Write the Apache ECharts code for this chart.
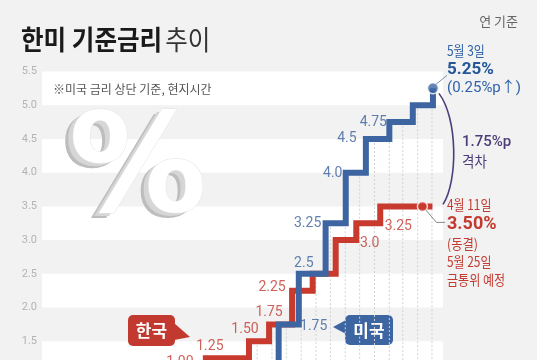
<!DOCTYPE html>
<html><head><meta charset="utf-8">
<script src="https://cdn.jsdelivr.net/npm/echarts@6/dist/echarts.min.js"></script>
<style>html,body{margin:0;padding:0;background:#f2f2f2;}#c{width:537px;height:360px;}</style>
</head><body><div id="c"></div>
<script>
// ---- data ----
const krDates  = ['2021-08-26','2021-11-25','2022-01-14','2022-04-14','2022-05-26','2022-07-13','2022-08-25','2022-10-12','2022-11-24','2023-01-13','2023-05-02'];
const krRates  = [0.75, 1.00, 1.25, 1.50, 1.75, 2.25, 2.50, 3.00, 3.25, 3.50, 3.50];
const krLabels = ['', '1.00', '1.25', '1.50', '1.75', '2.25', '', '3.0', '3.25', '', ''];
const usDates  = ['2020-03-16','2022-03-16','2022-05-04','2022-06-15','2022-07-27','2022-09-21','2022-11-02','2022-12-14','2023-02-01','2023-03-22','2023-05-03'];
const usRates  = [0.25, 0.50, 1.00, 1.75, 2.50, 3.25, 4.00, 4.50, 4.75, 5.00, 5.25];
const usLabels = ['', '', '', '1.75', '2.5', '3.25', '4.0', '4.5', '4.75', '', ''];
const krHoldDate = '2023-04-11';
const krHoldRate = 3.50;
const gridMonths = ['2022-02-01','2022-03-01','2022-04-01','2022-05-01','2022-06-01','2022-07-01','2022-08-01','2022-09-01','2022-10-01','2022-11-01','2022-12-01','2023-01-01','2023-02-01','2023-03-01','2023-04-01','2023-05-01'];
const yMin = 1.0, yMax = 5.5, yStep = 0.5;
const xStart = '2021-02-06', xEnd = '2023-05-24';

// ---- helpers ----
const T = s => (echarts.time && echarts.time.parse ? echarts.time.parse(s) : echarts.number.parseDate(s)).getTime();
function rateAt(dates, rates, d) {
  let r = null; const t = T(d);
  for (let i = 0; i < dates.length; i++) if (T(dates[i]) <= t) r = rates[i];
  return r;
}
const BLUE = '#3d65a2', RED = '#c93a2e', PURPLE = '#4d3d7a';
const BLUE_TXT = '#3a5f9c', RED_TXT = '#c23a30';
const NUMFONT = "Roboto, 'Noto Sans CJK KR', sans-serif";
const KFONT = "'Noto Sans CJK KR', sans-serif";

const krOffsets = {'1.00':[-2,-13],'1.25':[4,-12],'1.50':[-4,-12],'1.75':[0,-12],'2.25':[-20,-3],'3.0':[34,3],'3.25':[42,3]};
const usOffsets = {'1.75':[35,2],'2.5':[5,-10],'3.25':[-18,0],'4.0':[-13,1],'4.5':[-19,0],'4.75':[-16,0]};

function labelData(dates, rates, labels, offsets, color) {
  const out = [];
  dates.forEach((d, i) => {
    if (!labels[i]) return;
    out.push({value: [d, rates[i]], label: {show: true, position: 'inside', formatter: labels[i], offset: offsets[labels[i]] || [0, 0], color: color}});
  });
  return out;
}

const chart = echarts.init(document.getElementById('c'), null, {renderer: 'canvas'});
chart.setOption({
  animation: false,
  backgroundColor: '#f2f2f2',
  grid: {left: 42, width: 401, top: 71.5, height: 303.5, containLabel: false, outerBoundsMode: 'none'},
  xAxis: {type: 'time', min: T(xStart), max: T(xEnd), axisLine: {show: false}, axisTick: {show: false}, axisLabel: {show: false}, splitLine: {show: false}},
  yAxis: {type: 'value', min: yMin, max: yMax, interval: yStep,
    axisLine: {show: false}, axisTick: {show: false}, splitLine: {show: false},
    axisLabel: {color: '#b3b3b3', fontSize: 11, margin: 5, fontFamily: NUMFONT, formatter: v => v.toFixed(1)},
    splitArea: {show: true, areaStyle: {color: ['#ffffff', 'rgba(0,0,0,0)']}}},
  series: [
    {type: 'custom', z: 1, silent: true,
      data: gridMonths.map(m => [m, Math.max(rateAt(usDates, usRates, m), rateAt(krDates, krRates, m))]),
      renderItem: (params, api) => {
        const top = api.coord([api.value(0), api.value(1)]);
        const bot = api.coord([api.value(0), yMin]);
        return {type: 'line', shape: {x1: top[0], y1: top[1], x2: bot[0], y2: bot[1]}, style: {stroke: '#d2d2d2', lineWidth: 1, lineDash: [2, 2]}};
      }},
    {type: 'line', name: '한국', step: 'end', z: 3, symbol: 'none', lineStyle: {color: RED, width: 6, join: 'miter'},
      data: krDates.map((d, i) => [d, krRates[i]])},
    {type: 'line', name: '미국', step: 'end', z: 4, symbol: 'none', lineStyle: {color: BLUE, width: 6, join: 'miter'},
      data: usDates.map((d, i) => [d, usRates[i]])},
    {type: 'scatter', z: 6, symbolSize: 0, silent: true,
      label: {fontSize: 14, fontFamily: NUMFONT},
      data: labelData(krDates, krRates, krLabels, krOffsets, RED_TXT).concat(labelData(usDates, usRates, usLabels, usOffsets, BLUE_TXT))},
    {type: 'scatter', z: 7, symbol: 'circle', silent: true,
      data: [
        {value: [usDates[usDates.length - 1], usRates[usRates.length - 1]], symbolSize: 11, itemStyle: {color: BLUE, borderColor: '#fff', borderWidth: 1.5}},
        {value: [krHoldDate, krHoldRate], symbolSize: 10, itemStyle: {color: RED, borderColor: '#fff', borderWidth: 1.5}}
      ]}
  ]
});

// ---- annotations anchored to data ----
const px = (d, v) => chart.convertToPixel({gridIndex: 0}, [T(d), v]);
const bd = px(usDates[usDates.length - 1], usRates[usRates.length - 1]);
const rd = px(krHoldDate, krHoldRate);
const tx = 42 + 401 + 4;
function txt(x, y, s, opt) {
  return Object.assign({type: 'text', x: x, y: y, z: 20, style: Object.assign({text: s, textVerticalAlign: 'middle', textAlign: 'left'}, opt.style)}, opt.el || {});
}
const g = [];
// title
g.push({type: 'text', x: 21, y: 40, z: 20, scaleX: 0.91, style: {
  text: '{b|한미 기준금리} {n|추이}', textVerticalAlign: 'middle',
  rich: {b: {fontSize: 27, fontWeight: 'bold', fontFamily: KFONT, fill: '#1a1a1a'}, n: {fontSize: 27, fontWeight: 'normal', fontFamily: KFONT, fill: '#333'}}}});
g.push(txt(518, 21, '연 기준', {style: {fontSize: 13, fontFamily: KFONT, fill: '#666', textAlign: 'right'}}));
g.push(txt(53, 89, '※미국 금리 상단 기준, 현지시간', {style: {fontSize: 12, fontFamily: KFONT, fill: '#555'}}));
// big percent icon
const pc = [138, 175];
const PF = "'DejaVu Sans', sans-serif";
g.push({type: 'text', x: pc[0] - 8, y: pc[1] + 5, z: 1, style: {text: '%', fontSize: 138, fontWeight: 'bold', fontFamily: PF, fill: '#bdbdbd', textAlign: 'center', textVerticalAlign: 'middle'}});
g.push({type: 'text', x: pc[0] - 5, y: pc[1] + 3, z: 1, style: {text: '%', fontSize: 138, fontWeight: 'bold', fontFamily: PF, fill: '#d6d6d6', textAlign: 'center', textVerticalAlign: 'middle'}});
g.push({type: 'text', x: pc[0], y: pc[1], z: 1, style: {text: '%', fontSize: 138, fontWeight: 'bold', fontFamily: PF, fill: '#ffffff', stroke: '#e4e4e4', lineWidth: 1, textAlign: 'center', textVerticalAlign: 'middle'}});
// blue annotation
g.push({type: 'polyline', z: 19, shape: {points: [[bd[0] + 3, bd[1] - 4], [tx, bd[1] - 13]]}, style: {stroke: '#7a8fb0', lineWidth: 1}});
g.push(txt(tx, bd[1] - 38, '5월 3일', {style: {fontSize: 14, fontFamily: KFONT, fill: '#2f62a8'}, el: {scaleX: 0.85}}));
g.push(txt(tx, bd[1] - 19, '5.25%', {style: {fontSize: 17, fontWeight: 'bold', fontFamily: NUMFONT, fill: '#24569a'}}));
g.push(txt(tx, bd[1] + 0, '(0.25%p↑)', {style: {fontSize: 15, fontFamily: NUMFONT, fill: '#2f62a8'}}));
// purple gap bracket
g.push({type: 'bezierCurve', z: 19, shape: {x1: bd[0] + 6, y1: bd[1] + 5, cpx1: bd[0] + 25, cpy1: bd[1] + 30, cpx2: bd[0] + 25, cpy2: rd[1] - 25, x2: tx - 4, y2: rd[1] - 2}, style: {stroke: PURPLE, lineWidth: 1.6, fill: null}});
const mid = (bd[1] + rd[1]) / 2;
g.push(txt(tx + 15, mid - 5, '1.75%p', {style: {fontSize: 15, fontWeight: 500, fontFamily: NUMFONT, fill: PURPLE}}));
g.push(txt(tx + 15, mid + 14, '격차', {style: {fontSize: 15, fontFamily: KFONT, fill: PURPLE}, el: {scaleX: 0.9}}));
// red annotation
g.push({type: 'polyline', z: 19, shape: {points: [[rd[0] + 3, rd[1] + 3], [rd[0] + 14, rd[1] + 16], [tx - 2, rd[1] + 16]]}, style: {stroke: '#888', lineWidth: 1}});
g.push(txt(tx, rd[1] - 2, '4월 11일', {style: {fontSize: 14, fontFamily: KFONT, fill: RED_TXT}, el: {scaleX: 0.85}}));
g.push(txt(tx, rd[1] + 18, '3.50%', {style: {fontSize: 18, fontWeight: 'bold', fontFamily: NUMFONT, fill: RED_TXT}}));
g.push(txt(tx, rd[1] + 37, '(동결)', {style: {fontSize: 14, fontFamily: KFONT, fill: RED_TXT}, el: {scaleX: 0.88}}));
g.push(txt(tx, rd[1] + 55, '5월 25일', {style: {fontSize: 14, fontFamily: KFONT, fill: RED_TXT}, el: {scaleX: 0.85}}));
g.push(txt(tx, rd[1] + 73, '금통위 예정', {style: {fontSize: 14, fontFamily: KFONT, fill: RED_TXT}, el: {scaleX: 0.86}}));
// series callouts
g.push({type: 'group', z: 20, children: [
  {type: 'rect', shape: {x: 128, y: 315, width: 47, height: 31, r: 5}, style: {fill: '#c23a2f'}},
  {type: 'polygon', shape: {points: [[174, 323], [190, 337], [174, 340]]}, style: {fill: '#c23a2f'}},
  {type: 'text', x: 151.5, y: 331, style: {text: '한국', fontSize: 17, fontWeight: 'bold', fontFamily: KFONT, fill: '#fff', textAlign: 'center', textVerticalAlign: 'middle'}}
]});
g.push({type: 'group', z: 20, children: [
  {type: 'rect', shape: {x: 345, y: 315, width: 48, height: 30, r: 5}, style: {fill: BLUE}},
  {type: 'polygon', shape: {points: [[346, 320], [333, 327], [346, 334]]}, style: {fill: BLUE}},
  {type: 'text', x: 369, y: 330.5, style: {text: '미국', fontSize: 17, fontWeight: 'bold', fontFamily: KFONT, fill: '#fff', textAlign: 'center', textVerticalAlign: 'middle'}}
]});
chart.setOption({graphic: g});
</script></body></html>
